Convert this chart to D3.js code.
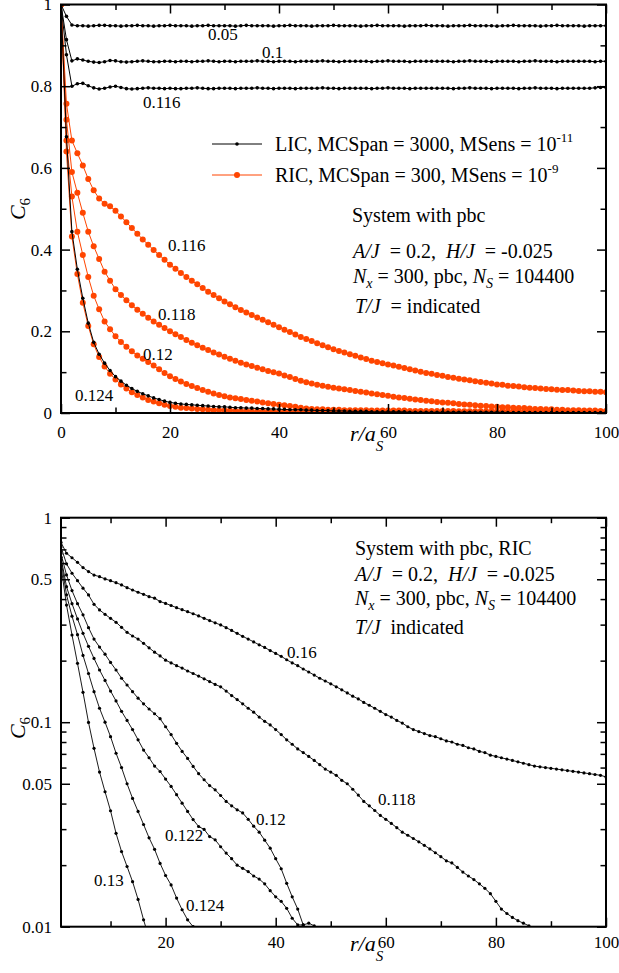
<!DOCTYPE html>
<html><head><meta charset="utf-8">
<script src="https://cdn.jsdelivr.net/npm/d3@7/dist/d3.min.js"></script>
<style>html,body{margin:0;padding:0;background:#fff;} svg{display:block;}</style>
</head><body>
<svg id="chart" width="619" height="973"></svg>
<script>
// ================= DATA =================
// r/a_S grids
const rTop = d3.range(0, 101);   // 0..100
const rBot = d3.range(1, 101);   // 1..100

// ---- Top panel: LIC (black) ----
const licT005 = [1,0.971,0.950,0.948,0.948,0.947,0.948,0.949,0.949,0.948,
 0.948,0.947,0.948,0.948,0.949,0.948,0.948,0.947,0.948,0.948,
 0.949,0.948,0.948,0.948,0.947,0.948,0.948,0.949,0.948,0.948,
 0.948,0.948,0.947,0.948,0.949,0.948,0.948,0.948,0.948,0.947,
 0.948,0.948,0.949,0.948,0.948,0.948,0.947,0.948,0.948,0.948,
 0.949,0.948,0.948,0.948,0.948,0.947,0.948,0.948,0.949,0.948,
 0.948,0.948,0.948,0.947,0.948,0.948,0.948,0.949,0.948,0.948,
 0.948,0.947,0.948,0.948,0.948,0.949,0.948,0.948,0.948,0.948,
 0.947,0.948,0.948,0.949,0.948,0.948,0.948,0.948,0.947,0.948,
 0.948,0.949,0.948,0.948,0.948,0.948,0.947,0.948,0.948,0.948,
 0.948];
const licT010 = [1,0.914,0.862,0.867,0.864,0.861,0.859,0.858,0.860,0.863,
 0.862,0.860,0.859,0.860,0.861,0.862,0.861,0.860,0.860,0.861,
 0.861,0.860,0.861,0.861,0.860,0.861,0.861,0.862,0.861,0.860,
 0.861,0.861,0.860,0.861,0.861,0.861,0.862,0.861,0.861,0.860,
 0.861,0.861,0.861,0.860,0.861,0.861,0.861,0.861,0.862,0.861,
 0.861,0.860,0.861,0.861,0.861,0.861,0.861,0.860,0.861,0.861,
 0.862,0.861,0.861,0.861,0.860,0.861,0.861,0.861,0.861,0.861,
 0.861,0.861,0.860,0.861,0.861,0.862,0.861,0.861,0.861,0.860,
 0.861,0.861,0.861,0.861,0.860,0.861,0.861,0.862,0.861,0.861,
 0.861,0.860,0.861,0.861,0.861,0.861,0.861,0.861,0.860,0.861,
 0.861];
const licT0116 = [1,0.877,0.800,0.806,0.807,0.801,0.796,0.793,0.795,0.798,
 0.800,0.797,0.794,0.793,0.794,0.795,0.796,0.795,0.795,0.794,
 0.795,0.794,0.794,0.795,0.795,0.796,0.795,0.794,0.794,0.795,
 0.795,0.795,0.794,0.795,0.795,0.795,0.796,0.795,0.795,0.794,
 0.795,0.795,0.795,0.794,0.795,0.795,0.795,0.795,0.796,0.795,
 0.795,0.794,0.795,0.795,0.795,0.795,0.795,0.794,0.795,0.795,
 0.796,0.795,0.795,0.795,0.794,0.795,0.795,0.795,0.795,0.795,
 0.795,0.795,0.794,0.795,0.795,0.796,0.795,0.795,0.795,0.794,
 0.795,0.795,0.795,0.795,0.794,0.795,0.795,0.796,0.795,0.795,
 0.795,0.794,0.795,0.795,0.795,0.795,0.795,0.795,0.796,0.797,
 0.797];
const licT0124 = [1,0.676,0.444,0.352,0.281,0.220,0.173,0.144,0.122,0.104,
 0.089,0.078,0.068,0.060,0.053,0.047,0.042,0.037,0.033,0.029,
 0.026,0.024,0.022,0.021,0.020,0.019,0.018,0.017,0.016,0.015,
 0.015,0.014,0.013,0.013,0.012,0.012,0.011,0.011,0.010,0.010,
 0.009,0.009,0.008,0.008,0.008,0.007,0.007,0.006,0.006,0.006,
 0.005,0.005,0.005,0.004,0.004,0.004,0.004,0.003,0.003,0.003,
 0.003,0.003,0.003,0.003,0.002,0.002,0.002,0.002,0.002,0.002,
 0.002,0.002,0.002,0.002,0.002,0.002,0.002,0.002,0.002,0.002,
 0.002,0.002,0.001,0.001,0.001,0.001,0.001,0.001,0.001,0.001,
 0.001,0.001,0.001,0.001,0.001,0.001,0.001,0.001,0.001,0.001,
 0.001];

// ---- Top panel: RIC (red) ----
const ricT0116 = [1,0.757,0.667,0.636,0.606,0.573,0.545,0.525,0.512,0.506,
 0.495,0.481,0.467,0.453,0.439,0.425,0.412,0.399,0.387,0.375,
 0.363,0.353,0.343,0.333,0.324,0.315,0.306,0.297,0.289,0.281,
 0.273,0.266,0.259,0.252,0.246,0.240,0.234,0.228,0.222,0.216,
 0.210,0.204,0.198,0.192,0.186,0.181,0.176,0.171,0.166,0.161,
 0.156,0.152,0.148,0.144,0.140,0.136,0.132,0.128,0.125,0.122,
 0.119,0.116,0.113,0.110,0.107,0.104,0.101,0.098,0.096,0.093,
 0.091,0.088,0.086,0.084,0.082,0.080,0.078,0.076,0.074,0.072,
 0.070,0.069,0.067,0.066,0.065,0.063,0.062,0.061,0.060,0.059,
 0.058,0.057,0.056,0.056,0.055,0.054,0.053,0.053,0.052,0.052,
 0.051];
const ricT0118 = [1,0.718,0.590,0.539,0.490,0.444,0.408,0.377,0.346,0.324,
 0.303,0.289,0.276,0.264,0.253,0.243,0.233,0.224,0.216,0.208,
 0.200,0.193,0.186,0.179,0.172,0.166,0.160,0.154,0.148,0.143,
 0.138,0.133,0.128,0.123,0.119,0.115,0.111,0.107,0.103,0.100,
 0.097,0.092,0.088,0.083,0.079,0.075,0.072,0.069,0.067,0.064,
 0.062,0.060,0.058,0.056,0.054,0.052,0.050,0.048,0.046,0.044,
 0.042,0.040,0.038,0.037,0.035,0.033,0.032,0.030,0.029,0.027,
 0.026,0.025,0.024,0.022,0.021,0.020,0.019,0.018,0.017,0.016,
 0.015,0.014,0.014,0.013,0.012,0.012,0.011,0.010,0.010,0.009,
 0.009,0.008,0.008,0.007,0.007,0.007,0.006,0.006,0.006,0.005,
 0.005];
const ricT012 = [1,0.667,0.530,0.444,0.387,0.333,0.287,0.254,0.224,0.205,
 0.188,0.174,0.162,0.151,0.141,0.133,0.125,0.116,0.107,0.098,
 0.090,0.083,0.077,0.071,0.066,0.061,0.056,0.052,0.048,0.044,
 0.041,0.038,0.036,0.034,0.032,0.030,0.028,0.026,0.024,0.022,
 0.020,0.019,0.017,0.015,0.013,0.011,0.010,0.009,0.009,0.008,
 0.008,0.008,0.007,0.007,0.007,0.007,0.007,0.006,0.006,0.006,
 0.006,0.006,0.006,0.006,0.005,0.005,0.005,0.005,0.005,0.005,
 0.005,0.005,0.005,0.004,0.004,0.004,0.004,0.004,0.004,0.004,
 0.004,0.004,0.004,0.004,0.004,0.003,0.003,0.003,0.003,0.003,
 0.003,0.003,0.003,0.003,0.003,0.003,0.003,0.003,0.003,0.003,
 0.003];
const ricT0124 = [1,0.640,0.432,0.340,0.270,0.213,0.168,0.137,0.114,0.096,
 0.082,0.070,0.060,0.051,0.044,0.038,0.032,0.028,0.024,0.020,
 0.017,0.015,0.013,0.012,0.011,0.010,0.009,0.008,0.007,0.007,
 0.006,0.006,0.005,0.005,0.005,0.004,0.004,0.004,0.004,0.003,
 0.003,0.003,0.003,0.003,0.003,0.003,0.002,0.002,0.002,0.002,
 0.002,0.002,0.002,0.002,0.002,0.002,0.002,0.002,0.002,0.002,
 0.002,0.002,0.002,0.002,0.002,0.001,0.001,0.001,0.001,0.001,
 0.001,0.001,0.001,0.001,0.001,0.001,0.001,0.001,0.001,0.001,
 0.001,0.001,0.001,0.001,0.001,0.001,0.001,0.001,0.001,0.001,
 0.001,0.001,0.001,0.001,0.001,0.001,0.001,0.001,0.001,0.001,
 0.001];

// ---- Bottom panel (RIC, log scale), values from r = 1 ----
const botT016 = [0.757,0.670,0.637,0.605,0.570,0.545,0.524,0.515,0.502,0.492,
 0.481,0.469,0.455,0.443,0.432,0.422,0.411,0.404,0.389,0.381,
 0.372,0.363,0.355,0.347,0.339,0.331,0.322,0.314,0.306,0.299,
 0.290,0.281,0.272,0.263,0.255,0.247,0.239,0.232,0.224,0.217,
 0.210,0.202,0.195,0.189,0.182,0.176,0.170,0.164,0.159,0.154,
 0.149,0.144,0.139,0.134,0.130,0.125,0.121,0.117,0.113,0.109,
 0.106,0.102,0.099,0.095,0.092,0.090,0.088,0.086,0.085,0.083,
 0.081,0.080,0.078,0.077,0.075,0.074,0.072,0.071,0.069,0.068,
 0.067,0.066,0.065,0.064,0.063,0.062,0.061,0.0605,0.060,0.0595,
 0.059,0.0585,0.058,0.0575,0.057,0.0565,0.056,0.0555,0.055,0.054];
const botT0118 = [0.718,0.595,0.535,0.492,0.452,0.419,0.377,0.354,0.337,0.322,
 0.308,0.291,0.275,0.264,0.255,0.243,0.231,0.220,0.211,0.201,
 0.195,0.189,0.184,0.178,0.173,0.168,0.163,0.158,0.153,0.149,
 0.142,0.135,0.129,0.123,0.117,0.112,0.106,0.101,0.097,0.092,
 0.087,0.082,0.078,0.074,0.071,0.068,0.065,0.062,0.059,0.057,
 0.055,0.052,0.050,0.047,0.044,0.041,0.039,0.037,0.035,0.0335,
 0.032,0.0305,0.029,0.028,0.027,0.026,0.025,0.024,0.023,0.022,
 0.021,0.0205,0.0195,0.0185,0.0177,0.0170,0.0162,0.0154,0.0145,0.0133,
 0.0122,0.0116,0.0111,0.0107,0.0104,0.0101,0.0098];
const botT012 = [0.667,0.525,0.440,0.380,0.335,0.290,0.255,0.233,0.215,0.196,
 0.180,0.164,0.152,0.141,0.131,0.123,0.116,0.110,0.104,0.095,
 0.087,0.0788,0.072,0.0665,0.0608,0.056,0.0523,0.049,0.0467,0.0438,
 0.041,0.039,0.0373,0.036,0.0335,0.031,0.029,0.0265,0.0242,0.0215,
 0.0192,0.0163,0.014,0.0122,0.0102,0.0088];
const botT0122 = [0.640,0.460,0.380,0.320,0.272,0.235,0.205,0.180,0.160,0.142,
 0.127,0.113,0.102,0.092,0.082,0.0731,0.067,0.061,0.0574,0.0527,
 0.0485,0.0442,0.0402,0.0366,0.0334,0.0309,0.0299,0.0276,0.0266,0.0246,
 0.0229,0.0215,0.0200,0.0193,0.0186,0.0177,0.0171,0.0162,0.0150,0.0140,
 0.0133,0.0123,0.0110,0.0102,0.0102,0.0104,0.0101,0.0097];
const botT0124 = [0.620,0.420,0.330,0.268,0.212,0.173,0.141,0.117,0.100,0.085,
 0.0705,0.060,0.050,0.0424,0.0366,0.0316,0.0272,0.0239,0.0204,0.0178,
 0.0160,0.0138,0.0121,0.0108,0.0100,0.0088];
const botT013 = [0.580,0.374,0.267,0.194,0.140,0.0997,0.0745,0.057,0.0457,0.0369,
 0.0286,0.0233,0.0197,0.0166,0.0136,0.0108,0.0088];

// ---- ticks / labels ----
const topXMajor = [0,20,40,60,80,100];
const topXMinor = [10,30,50,70,90];
const topYMajor = [0,0.2,0.4,0.6,0.8,1];
const topYMinor = [0.1,0.3,0.5,0.7,0.9];
const botXMajor = [20,40,60,80,100];
const botXMinor = [10,30,50,70,90];
const botYMajor = [0.01,0.05,0.1,0.5,1];
const botYMinor = [0.02,0.03,0.04,0.06,0.07,0.08,0.09,0.2,0.3,0.4,0.6,0.7,0.8,0.9];

const legendLabels = ["LIC, MCSpan = 3000, MSens = 10", "RIC, MCSpan = 300, MSens = 10"];
const legendExps = ["-11", "-9"];

// ================= DRAWING =================
const FONT = '"Liberation Serif","Times New Roman",Times,serif';
const RED = "#ff4500";
const svg = d3.select("#chart");
svg.append("rect").attr("width",619).attr("height",973).attr("fill","#fff");

const P1 = {l:61, r:606, t:4.5, b:413};
const P2 = {l:61, r:606, t:517.7, b:926.7};

const x1 = d3.scaleLinear().domain([0,100]).range([P1.l,P1.r]);
const y1 = d3.scaleLinear().domain([0,1]).range([P1.b,P1.t]);
const x2 = d3.scaleLinear().domain([1,100]).range([P2.l,P2.r]);
const y2 = d3.scaleLog().domain([0.01,1]).range([P2.b,P2.t]);

const defs = svg.append("defs");
function clip(id,P){
  defs.append("clipPath").attr("id",id).append("rect")
    .attr("x",P.l).attr("y",P.t).attr("width",P.r-P.l).attr("height",P.b-P.t);
}
clip("c1",P1); clip("c2",P2);

function series(g, xs, ys, rs, vals, color, dotR, lw){
  const pts = vals.map((v,i)=>[rs[i], v]);
  g.append("path").datum(pts)
    .attr("d", d3.line().x(d=>xs(d[0])).y(d=>ys(d[1])))
    .attr("fill","none").attr("stroke",color).attr("stroke-width",lw);
  g.append("g").selectAll("circle").data(pts).join("circle")
    .attr("cx",d=>xs(d[0])).attr("cy",d=>ys(d[1])).attr("r",dotR).attr("fill",color);
}

function ticks(P, xs, ys, xMaj, xMin, yMaj, yMin){
  const g = svg.append("g");
  const defs2 = [
    [d3.axisBottom(xs), `translate(0,${P.b})`, xMaj, -9],
    [d3.axisBottom(xs), `translate(0,${P.b})`, xMin, -5.5],
    [d3.axisTop(xs), `translate(0,${P.t})`, xMaj, -9],
    [d3.axisTop(xs), `translate(0,${P.t})`, xMin, -5.5],
    [d3.axisLeft(ys), `translate(${P.l},0)`, yMaj, -9],
    [d3.axisLeft(ys), `translate(${P.l},0)`, yMin, -5.5],
    [d3.axisRight(ys), `translate(${P.r},0)`, yMaj, -9],
    [d3.axisRight(ys), `translate(${P.r},0)`, yMin, -5.5]
  ];
  defs2.forEach(([ax,tr,vals,sz])=>{
    const a = g.append("g").attr("transform",tr)
      .call(ax.tickValues(vals).tickSize(sz).tickFormat(""));
    a.select(".domain").remove();
    a.selectAll("line").attr("stroke","#000").attr("stroke-width",1.5);
  });
}

function labels(P, xs, ys, xVals, yVals, xPad){
  const gx = svg.append("g").attr("transform",`translate(0,${P.b})`)
    .call(d3.axisBottom(xs).tickValues(xVals).tickSize(0).tickPadding(xPad).tickFormat(d=>String(d)));
  const gy = svg.append("g").attr("transform",`translate(${P.l},0)`)
    .call(d3.axisLeft(ys).tickValues(yVals).tickSize(0).tickPadding(9).tickFormat(d=>String(d)));
  [gx,gy].forEach(g=>{
    g.select(".domain").remove();
    g.attr("font-family",FONT).attr("font-size",17);
    g.selectAll("text").attr("fill","#000");
  });
}

function txt(x,y,size,parts,anchor){
  const t = svg.append("text").attr("x",x).attr("y",y).attr("font-family",FONT)
    .attr("font-size",size).attr("fill","#000").style("white-space","pre")
    .attr("text-anchor",anchor||"start");
  parts.forEach(p=>{
    const s = t.append("tspan").text(p.t);
    if(p.i) s.attr("font-style","italic");
    if(p.fs) s.attr("font-size",p.fs);
    if(p.dy) s.attr("dy",p.dy);
  });
  return t;
}

// ---------- Top panel ----------
const g1 = svg.append("g").attr("clip-path","url(#c1)");
series(g1, x1, y1, rTop, ricT0124, RED, 3, 1);
series(g1, x1, y1, rTop, ricT012, RED, 3, 1);
series(g1, x1, y1, rTop, ricT0118, RED, 3, 1);
series(g1, x1, y1, rTop, ricT0116, RED, 3, 1);
series(g1, x1, y1, rTop, licT0124, "#000", 1.8, 1);
series(g1, x1, y1, rTop, licT0116, "#000", 1.8, 1);
series(g1, x1, y1, rTop, licT010, "#000", 1.8, 1);
series(g1, x1, y1, rTop, licT005, "#000", 1.8, 1);

ticks(P1, x1, y1, topXMajor, topXMinor, topYMajor, topYMinor);
labels(P1, x1, y1, topXMajor, topYMajor, 13);
svg.append("rect").attr("x",P1.l).attr("y",P1.t).attr("width",P1.r-P1.l).attr("height",P1.b-P1.t)
  .attr("fill","none").attr("stroke","#000").attr("stroke-width",2);

// curve labels (top)
txt(208,40,17,[{t:"0.05"}]);
txt(262,58,17,[{t:"0.1"}]);
txt(143,108,17,[{t:"0.116"}]);
txt(168,251,17,[{t:"0.116"}]);
txt(158,320,17,[{t:"0.118"}]);
txt(143,360,17,[{t:"0.12"}]);
txt(75,401,17,[{t:"0.124"}]);

// legend
const legColors = ["#000", RED];
const legY = [144, 175];
const legR = [1.8, 3];
legendLabels.forEach((lab,i)=>{
  svg.append("line").attr("x1",212).attr("x2",262).attr("y1",legY[i]).attr("y2",legY[i])
    .attr("stroke",legColors[i]).attr("stroke-width",1);
  svg.append("circle").attr("cx",237).attr("cy",legY[i]).attr("r",legR[i]).attr("fill",legColors[i]);
  txt(275, legY[i]+7, 20, [{t:lab},{t:legendExps[i], fs:13, dy:-9}]);
});

// info block (top)
txt(352,222,20,[{t:"System with pbc"}]);
txt(353,258,20,[{t:"A/J",i:1},{t:"  = 0.2,  "},{t:"H/J",i:1},{t:"  = -0.025"}]);
txt(353,283,20,[{t:"N",i:1},{t:"x",i:1,fs:14,dy:5},{t:" = 300, pbc, ",dy:-5},{t:"N",i:1},{t:"S",i:1,fs:14,dy:5},{t:" = 104400",dy:-5}]);
txt(355,313,20,[{t:"T/J",i:1},{t:"  = indicated"}]);

// axis titles (top)
txt(350,441,22,[{t:"r/a",i:1},{t:"S",i:1,fs:15,dy:10}]);
svg.append("text").attr("transform","translate(25,209) rotate(-90)")
  .attr("text-anchor","middle").attr("font-family",FONT).attr("font-size",22)
  .call(t=>{ t.append("tspan").attr("font-style","italic").text("C");
             t.append("tspan").attr("font-size",15).attr("dy",5).text("6"); });

// ---------- Bottom panel ----------
const g2 = svg.append("g").attr("clip-path","url(#c2)");
[botT016, botT0118, botT012, botT0122, botT0124, botT013].forEach(v=>{
  series(g2, x2, y2, rBot, v, "#000", 1.6, 0.9);
});

ticks(P2, x2, y2, botXMajor, botXMinor, botYMajor, botYMinor);
labels(P2, x2, y2, botXMajor, botYMajor, 9.2);
svg.append("rect").attr("x",P2.l).attr("y",P2.t).attr("width",P2.r-P2.l).attr("height",P2.b-P2.t)
  .attr("fill","none").attr("stroke","#000").attr("stroke-width",2);

// curve labels (bottom)
txt(287,658,17,[{t:"0.16"}]);
txt(378,805,17,[{t:"0.118"}]);
txt(256,825,17,[{t:"0.12"}]);
txt(165,841,17,[{t:"0.122"}]);
txt(94,886,17,[{t:"0.13"}]);
txt(186,911,17,[{t:"0.124"}]);

// info block (bottom)
txt(355,555,20,[{t:"System with pbc, RIC"}]);
txt(355,581,20,[{t:"A/J",i:1},{t:"  = 0.2,  "},{t:"H/J",i:1},{t:"  = -0.025"}]);
txt(355,605,20,[{t:"N",i:1},{t:"x",i:1,fs:14,dy:5},{t:" = 300, pbc, ",dy:-5},{t:"N",i:1},{t:"S",i:1,fs:14,dy:5},{t:" = 104400",dy:-5}]);
txt(355,634,20,[{t:"T/J",i:1},{t:"  indicated"}]);

// axis titles (bottom)
txt(350,951,22,[{t:"r/a",i:1},{t:"S",i:1,fs:15,dy:10}]);
svg.append("text").attr("transform","translate(25,728) rotate(-90)")
  .attr("text-anchor","middle").attr("font-family",FONT).attr("font-size",22)
  .call(t=>{ t.append("tspan").attr("font-style","italic").text("C");
             t.append("tspan").attr("font-size",15).attr("dy",5).text("6"); });
</script>
</body></html>
